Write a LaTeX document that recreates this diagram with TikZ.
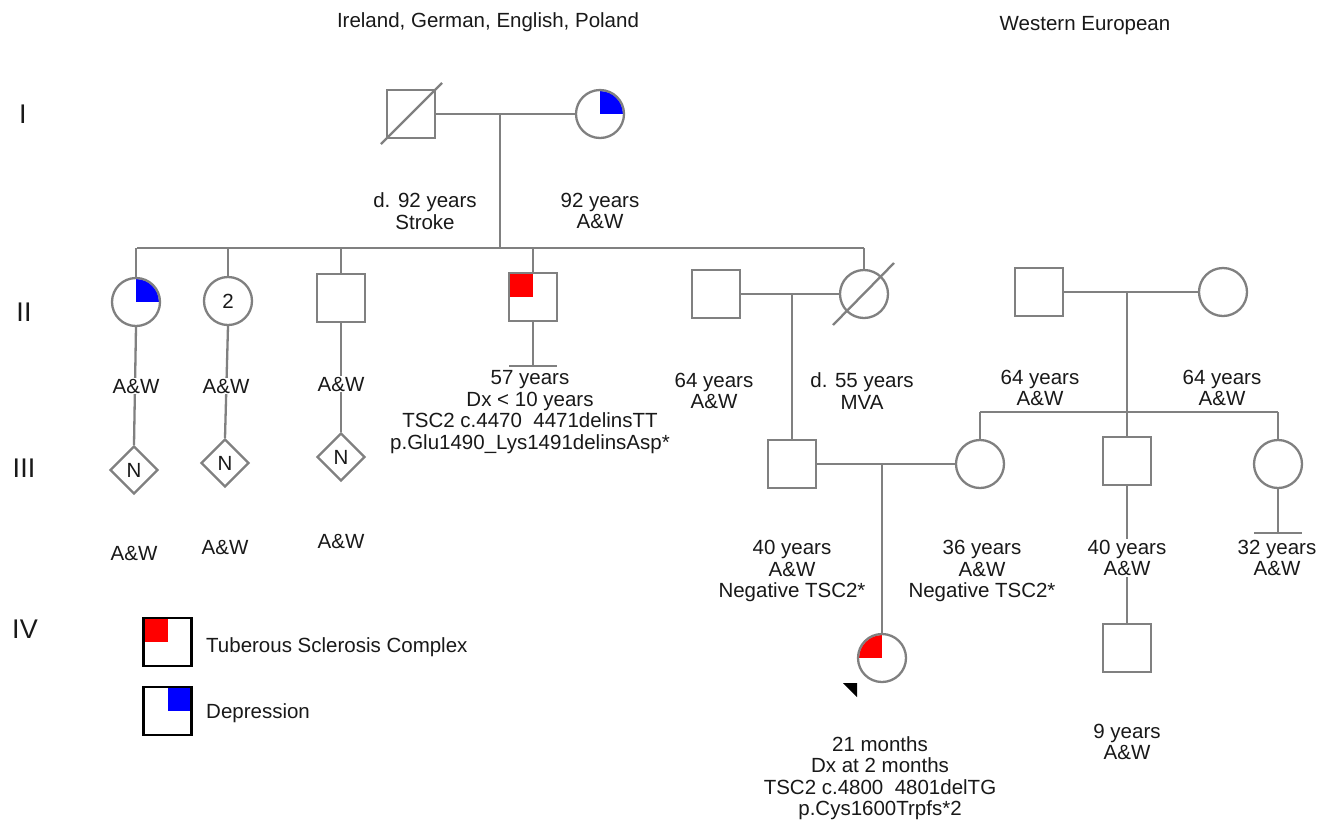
\documentclass[tikz,border=0pt]{standalone}
\usepackage{fontspec}
\setmainfont{Liberation Sans}
\usetikzlibrary{shapes.geometric,calc}
\definecolor{lc}{RGB}{128,128,128}
\definecolor{tc}{RGB}{25,25,25}
\definecolor{tscred}{RGB}{255,0,0}
\definecolor{depblue}{RGB}{0,0,255}
\newcommand\fsz{\fontsize{20.5}{21.5}\selectfont}
\newcommand\gsz{\fontsize{27}{30}\selectfont}
\begin{document}
\begin{tikzpicture}[x=1pt,y=-1pt,
  ln/.style={draw=lc,line width=2.3pt},
  male/.style={rectangle,draw=lc,line width=2.3pt,minimum size=48pt,inner sep=0pt},
  fem/.style={circle,draw=lc,line width=2.3pt,minimum size=48pt,inner sep=0pt,font=\fsz,text=tc},
  unk/.style={diamond,draw=lc,line width=2.3pt,minimum size=48pt,inner sep=0pt,font=\fsz,text=tc},
  lbl/.style={align=center,text=tc,font=\fsz,inner sep=1pt},
  wlbl/.style={lbl,fill=white},
  gen/.style={text=tc,font=\gsz},
  legbox/.style={rectangle,draw=black,line width=2.5pt,minimum size=48pt,inner sep=0pt}]
\useasboundingbox[fill=white] (0,0) rectangle (1327,823);

% ---------- positions ----------
\coordinate (cI1) at (411,114);
\coordinate (cI2) at (600,114);
\coordinate (cII1) at (136,302);
\coordinate (cII4) at (533,297);
\coordinate (cP) at (882,658);
\coordinate (cL1) at (167.5,642);
\coordinate (cL2) at (167.5,711);

% ---------- quadrant fills ----------
\begin{scope}\clip (cI2) circle[radius=23pt]; \fill[depblue] (cI2) rectangle ++(24,-24);\end{scope}
\begin{scope}\clip (cII1) circle[radius=23pt]; \fill[depblue] (cII1) rectangle ++(24,-24);\end{scope}
\fill[tscred] (cII4) rectangle ++(-24,-24);
\begin{scope}\clip (cP) circle[radius=23pt]; \fill[tscred] (cP) rectangle ++(-24,-24);\end{scope}
\fill[tscred] (cL1) rectangle ++(-24.5,-24);
\fill[depblue] (cL2) rectangle ++(24.5,-24);

% ---------- generation I ----------
\node[male] (I1) at (cI1) {};
\node[fem] (I2) at (cI2) {};
\draw[ln] ($(I1.center)+(-30,30)$) -- ($(I1.center)+(31,-31)$);
\draw[ln] (I1.east) -- (I2.west);
\coordinate (mI) at (500,114);
\coordinate (sII) at (500,248);
\draw[ln] (mI) -- (sII);

% ---------- generation II ----------
\node[fem] (II1) at (cII1) {};
\node[fem] (II2) at (228,301) {2};
\node[male] (II3) at (341,298) {};
\node[male] (II4) at (cII4) {};
\node[male] (II5) at (716,294) {};
\node[fem] (II6) at (864,294) {};
\node[male] (II7) at (1039,292) {};
\node[fem] (II8) at (1223,292) {};
\draw[ln] ($(II6.center)+(-31,31)$) -- ($(II6.center)+(30,-31)$);

\coordinate (sIIa) at (137,248);
\coordinate (sIIb) at (864,248);
\draw[ln] (sIIa) -- (sIIb);
\foreach \n in {II1,II2,II3,II4,II6}{\draw[ln] (\n.north |- sIIa) -- (\n.north);}

\draw[ln] (II5.east) -- (II6.west);
\draw[ln] (II7.east) -- (II8.west);

% II-4 no offspring
\coordinate (nII4) at (533,366);
\draw[ln] (II4.south) -- (nII4);
\draw[ln] ($(nII4)+(-24,0)$) -- ($(nII4)+(24,0)$);

% ---------- generation III ----------
\node[unk] (III1) at (134,470) {N};
\node[unk] (III2) at (225,463) {N};
\node[unk] (III3) at (341,457) {N};
\node[male] (III4) at (792,464) {};
\node[fem] (III5) at (980,464) {};
\node[male] (III6) at (1127,461) {};
\node[fem] (III7) at (1278,464) {};

\draw[ln] (II1.south) -- (III1.north);
\draw[ln] (II2.south) -- (III2.north);
\draw[ln] (II3.south) -- (III3.north);

\coordinate (mII56) at (792,294);
\draw[ln] (mII56) -- (III4.north);

\coordinate (mII78) at (1127,292);
\coordinate (sIIIb) at (1127,412);
\draw[ln] (mII78) -- (sIIIb);
\coordinate (sIIIa) at (980,412);
\coordinate (sIIIc) at (1278,412);
\draw[ln] (sIIIa) -- (sIIIc);
\foreach \n in {III5,III6,III7}{\draw[ln] (\n.north |- sIIIa) -- (\n.north);}

\draw[ln] (III4.east) -- (III5.west);

% III-7 no offspring
\coordinate (nIII7) at (1278,533);
\draw[ln] (III7.south) -- (nIII7);
\draw[ln] ($(nIII7)+(-24,0)$) -- ($(nIII7)+(24,0)$);

% ---------- generation IV ----------
\node[fem] (P) at (cP) {};
\node[male] (IV2) at (1127,648) {};
\coordinate (mIII45) at (882,465);
\draw[ln] (mIII45) -- (P.north);
\draw[ln] (III6.south) -- (IV2.north);
\fill[black] (843,683) -- (857,683) -- (857,697) -- cycle;

% ---------- labels ----------
\node[lbl] (t1) at (425,211) {d. 92 years\\Stroke};
\node[lbl] (t2) at (600,211) {92 years\\A\&W};
\node[wlbl] (t3) at (136,386) {A\&W};
\node[wlbl] (t4) at (226,386) {A\&W};
\node[wlbl] (t5) at (341,384) {A\&W};
\node[lbl] (t6) at (530,412) {57 years\\Dx < 10 years\\TSC2 c.4470\ \ 4471delinsTT\\p.Glu1490\_Lys1491delinsAsp*};
\node[lbl] (t7) at (714,391) {64 years\\A\&W};
\node[lbl] (t8) at (862,391) {d. 55 years\\MVA};
\node[lbl] (t9) at (1040,388) {64 years\\A\&W};
\node[lbl] (t10) at (1222,388) {64 years\\A\&W};
\node[lbl] (t11) at (134,553) {A\&W};
\node[lbl] (t12) at (225,547) {A\&W};
\node[lbl] (t13) at (341,541) {A\&W};
\node[lbl] (t14) at (792,571) {40 years\\A\&W\\Negative TSC2*};
\node[lbl] (t15) at (982,571) {36 years\\A\&W\\Negative TSC2*};
\node[wlbl] (t16) at (1127,558) {40 years\\A\&W};
\node[lbl] (t17) at (1277,558) {32 years\\A\&W};
\node[lbl] (t18) at (1127,742) {9 years\\A\&W};
\node[lbl] (t19) at (880,778) {21 months\\Dx at 2 months\\TSC2 c.4800\ \ 4801delTG\\p.Cys1600Trpfs*2};

% top headings
\node[lbl,anchor=base] (h1) at (488,27) {Ireland, German, English, Poland};
\node[lbl,anchor=base] (h2) at (1085,30) {Western European};

% generation numerals
\node[gen] (gI) at (23,114) {I};
\node[gen] (gII) at (24,312) {II};
\node[gen] (gIII) at (24,468) {III};
\node[gen] (gIV) at (25,629) {IV};

% legend
\node[legbox] (L1) at (cL1) {};
\node[legbox] (L2) at (cL2) {};
\node[lbl,anchor=base west] (lt1) at (205,652) {Tuberous Sclerosis Complex};
\node[lbl,anchor=base west] (lt2) at (205,718) {Depression};
\end{tikzpicture}
\end{document}
